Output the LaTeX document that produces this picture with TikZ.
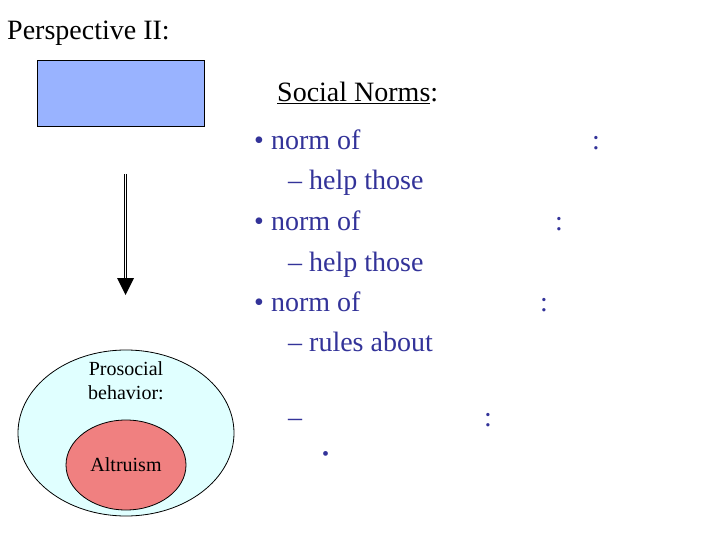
\documentclass[tikz,border=0pt]{standalone}
\usepackage{fontspec}
\setmainfont{Liberation Serif}
\begin{document}
\begin{tikzpicture}[x=1pt,y=-1pt,
  txt/.style={anchor=base west,inner sep=0pt,font=\fontsize{28}{32}\selectfont},
  small/.style={font=\fontsize{20}{24}\selectfont,align=center,inner sep=0pt}]
\definecolor{tb}{HTML}{333399}
\useasboundingbox (0,0) rectangle (720,540);
\node[txt] (title) at (7,40) {Perspective II:};
\node[draw,fill={rgb,255:red,153;green,179;blue,255},minimum width=167,minimum height=66,anchor=north west] (box) at (37,60) {};
\node[txt] (sn) at (277,102) {\underline{Social Norms}:};
\node[txt,text=tb] (l1) at (254,150) {• norm of};
\node[txt,text=tb] (c1) at (592,150) {:};
\node[txt,text=tb] (l2) at (288,190) {– help those};
\node[txt,text=tb] (l3) at (254,230) {• norm of};
\node[txt,text=tb] (c3) at (555,230) {:};
\node[txt,text=tb] (l4) at (288,271) {– help those};
\node[txt,text=tb] (l5) at (254,311) {• norm of};
\node[txt,text=tb] (c5) at (540,311) {:};
\node[txt,text=tb] (l6) at (288,351) {– rules about};
\node[txt,text=tb] (l7) at (288,426) {–};
\node[txt,text=tb] (c7) at (484,426) {:};
\node[txt,text=tb,font=\fontsize{20}{24}\selectfont] (l8) at (322,460) {•};
\draw[line width=0.8pt,fill={rgb,255:red,224;green,255;blue,255}] (126,433) ellipse [x radius=108,y radius=83];
\node[small] (pro) at (126,381) {Prosocial\\behavior:};
\draw[line width=0.8pt,fill={rgb,255:red,240;green,128;blue,128}] (126,465) ellipse [x radius=60,y radius=45];
\node[small] (alt) at (126,465) {Altruism};
\coordinate (a1) at (125.5,174);
\coordinate (a2) at (125.5,278);
\draw[line width=3.5pt] (a1) -- (a2);
\draw[line width=1.5pt,white] (a1) -- (a2);
\fill (117,278) -- (134,278) -- (125.5,295) -- cycle;
\end{tikzpicture}
\end{document}
